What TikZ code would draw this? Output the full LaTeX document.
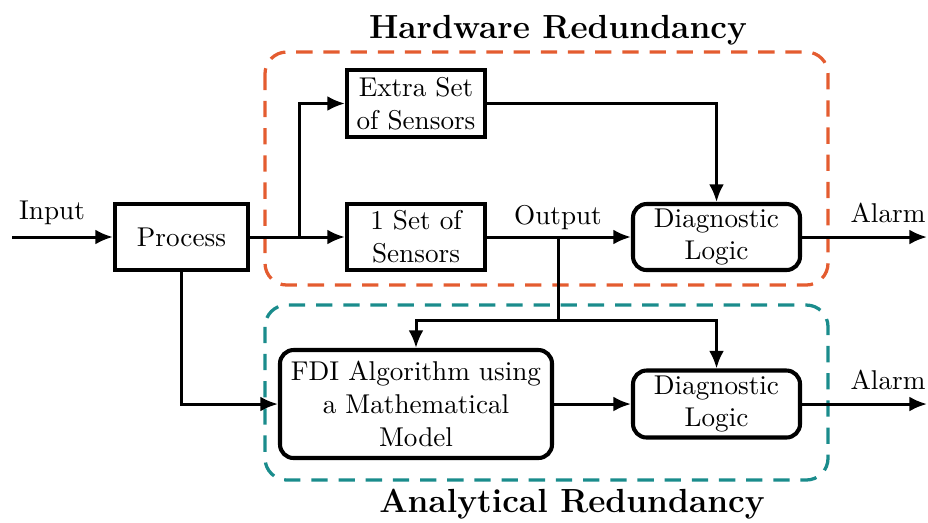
\documentclass[tikz,border=0pt]{standalone}
\usetikzlibrary{arrows.meta}
\definecolor{hwred}{RGB}{228,92,48}
\definecolor{anteal}{RGB}{26,140,140}
\begin{document}
\begin{tikzpicture}[x=0.368pt,y=-0.368pt,
  blk/.style={draw, line width=1.5pt, inner sep=0pt, align=center},
  rblk/.style={blk, rounded corners=5pt},
  conn/.style={line width=1.1pt, -{Latex[length=6.5pt,width=5.5pt]}},
  plain/.style={line width=1.1pt},
  grp/.style={line width=1.2pt, dash pattern=on 6pt off 4pt, rounded corners=8pt},
  ttl/.style={font=\fontsize{12.3pt}{14pt}\selectfont\bfseries},
  lbl/.style={inner sep=0pt}]
\useasboundingbox (0,0) rectangle (928,522);
% groups
\draw[grp, hwred] (265,52) rectangle (828,285);
\draw[grp, anteal] (265,305) rectangle (828,480);
\node[ttl] (hwt) at (558,30) {Hardware Redundancy};
\node[ttl] (ant) at (572,504) {Analytical Redundancy};
% blocks
\node[blk, minimum width={133*0.368pt}, minimum height={66*0.368pt}] (proc) at (181.5,237) {Process};
\node[blk, minimum width={138*0.368pt}, minimum height={67*0.368pt}] (extra) at (416,103.5) {Extra Set\\of Sensors};
\node[blk, minimum width={138*0.368pt}, minimum height={66*0.368pt}] (one) at (416,237) {1 Set of\\Sensors};
\node[rblk, minimum width={167*0.368pt}, minimum height={66*0.368pt}] (diag1) at (716.5,237) {Diagnostic\\Logic};
\node[rblk, minimum width={272*0.368pt}, minimum height={108*0.368pt}] (fdi) at (416,404) {FDI Algorithm using\\a Mathematical\\Model};
\node[rblk, minimum width={167*0.368pt}, minimum height={67*0.368pt}] (diag2) at (716.5,404) {Diagnostic\\Logic};
% labels
\node[lbl] (inl) at (52,213) {Input};
\node[lbl] (outl) at (558,218) {Output};
\node[lbl] (al1l) at (888,213) {Alarm};
\node[lbl] (al2l) at (888,380) {Alarm};
% coordinates
\coordinate (in) at (12,237);
\coordinate (br) at (299,237);
\coordinate (out) at (558,237);
\coordinate (split) at (558,320);
\coordinate (al1) at (927,237);
\coordinate (al2) at (927,404);
% connectors
\draw[conn] (in) -- (proc.west);
\draw[conn] (proc.east) -- (one.west);
\draw[conn] (br) |- (extra.west);
\draw[conn] (extra.east) -| (diag1.north);
\draw[conn] (one.east) -- (diag1.west);
\draw[plain] (out) -- (split);
\draw[conn] (split) -| (fdi.north);
\draw[conn] (split) -| (diag2.north);
\draw[conn] (proc.south) |- (fdi.west);
\draw[conn] (fdi.east) -- (diag2.west);
\draw[conn] (diag1.east) -- (al1);
\draw[conn] (diag2.east) -- (al2);
\end{tikzpicture}
\end{document}
